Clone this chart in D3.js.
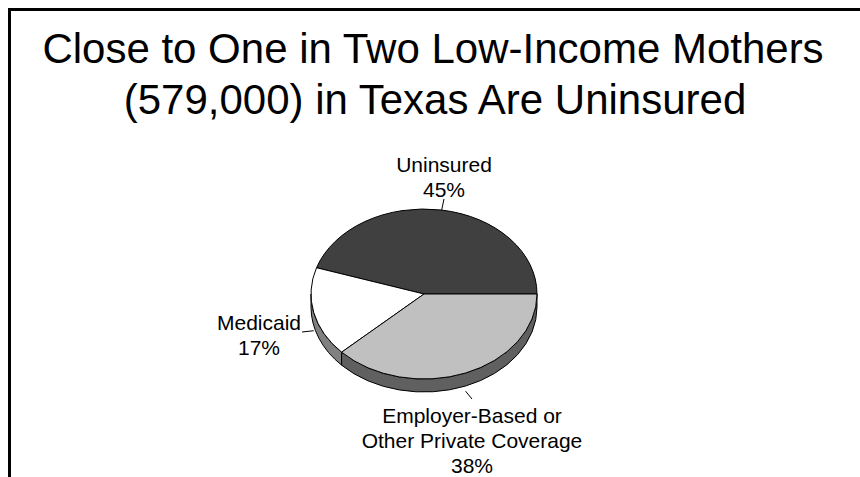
<!DOCTYPE html>
<html>
<head>
<meta charset="utf-8">
<script src="https://cdn.jsdelivr.net/npm/d3@7"></script>
<style>
  html, body { margin: 0; padding: 0; background: #fff; }
  svg { display: block; }
  text { font-family: "Liberation Sans", Arial, sans-serif; fill: #000; }
</style>
</head>
<body>
<svg id="chart" width="860" height="477"></svg>
<script>
// Coverage of low-income mothers in Texas
const categories = ["Uninsured", "Medicaid", "Employer-Based or Other Private Coverage"];
const shares = [45, 17, 38];
const labelLines = [
  ["Uninsured", "45%"],
  ["Medicaid", "17%"],
  ["Employer-Based or", "Other Private Coverage", "38%"]
];
const titleLines = [
  "Close to One in Two Low-Income Mothers",
  "(579,000) in Texas Are Uninsured"
];

const topColors = ["#404040", "#ffffff", "#c0c0c0"];
const sideColors = ["#303030", "#808080", "#606060"];

const svg = d3.select("#chart");
const W = 860, H = 477;

// frame
svg.append("rect")
  .attr("x", 9.5).attr("y", 9.5)
  .attr("width", W + 20).attr("height", H + 20)
  .attr("fill", "none").attr("stroke", "#000").attr("stroke-width", 3);

// title
svg.append("g").selectAll("text")
  .data(titleLines)
  .join("text")
  .attr("x", (d, i) => i === 0 ? 433 : 435)
  .attr("y", (d, i) => 63 + i * 51)
  .attr("text-anchor", "middle")
  .attr("font-size", 42)
  .text(d => d);

// pie geometry
const cx = 424, cy = 294, rx = 113, ry = 85, depth = 13;

// slices start at 3 o'clock and run counter-clockwise
const pie = d3.pie().sort(null).value(d => d)
  .startAngle(Math.PI / 2)
  .endAngle(Math.PI / 2 - 2 * Math.PI);
const slices = pie(shares);

const ePt = (a, dy = 0) => [cx + rx * Math.sin(a), cy - ry * Math.cos(a) + dy];

// side wall of a slice, restricted to the front half of the ellipse
function sidePath(a0, a1) {
  let lo = Math.min(a0, a1), hi = Math.max(a0, a1);
  const TAU = 2 * Math.PI;
  const shift = Math.floor(lo / TAU) * TAU;
  lo -= shift; hi -= shift;
  const segs = [];
  for (const off of [0, TAU]) {
    const s = Math.max(lo, Math.PI / 2 + off), e = Math.min(hi, 3 * Math.PI / 2 + off);
    if (e > s) segs.push([s, e]);
  }
  return segs.map(([s, e]) => {
    const p0 = ePt(s), p1 = ePt(e), q1 = ePt(e, depth), q0 = ePt(s, depth);
    return `M${p0}A${rx},${ry} 0 0 1 ${p1}L${q1}A${rx},${ry} 0 0 0 ${q0}Z`;
  }).join("");
}

const pieG = svg.append("g");

pieG.selectAll("path.side")
  .data(slices)
  .join("path")
  .attr("class", "side")
  .attr("d", d => sidePath(d.startAngle, d.endAngle))
  .attr("fill", (d, i) => sideColors[i])
  .attr("stroke", "#000")
  .attr("stroke-width", 1)
  .attr("stroke-linejoin", "round");

const arc = d3.arc().innerRadius(0).outerRadius(rx);
pieG.append("g")
  .attr("transform", `translate(${cx},${cy}) scale(1,${ry / rx})`)
  .selectAll("path.top")
  .data(slices)
  .join("path")
  .attr("class", "top")
  .attr("d", arc)
  .attr("fill", (d, i) => topColors[i])
  .attr("stroke", "#000")
  .attr("stroke-width", 1)
  .attr("vector-effect", "non-scaling-stroke")
  .attr("stroke-linejoin", "round");

// labels and leader lines
const labelPos = [
  { x: 444, y: 172, lx: 444, ly: 199 },
  { x: 259, y: 330, lx: 302, ly: 332 },
  { x: 472, y: 423, lx: 472, ly: 399 }
];
const fs = 21, lh = 25;

slices.forEach((d, i) => {
  const mid = (d.startAngle + d.endAngle) / 2;
  const front = Math.cos(mid) < 0;
  const anchor = ePt(mid, front ? depth * 1.4 : 0);
  const p = labelPos[i];
  svg.append("line")
    .attr("x1", p.lx).attr("y1", p.ly)
    .attr("x2", anchor[0]).attr("y2", anchor[1])
    .attr("stroke", "#000").attr("stroke-width", 1);
  svg.append("g").selectAll("text")
    .data(labelLines[i])
    .join("text")
    .attr("x", p.x)
    .attr("y", (t, j) => p.y + j * lh)
    .attr("text-anchor", "middle")
    .attr("font-size", fs)
    .text(t => t);
});
</script>
</body>
</html>
